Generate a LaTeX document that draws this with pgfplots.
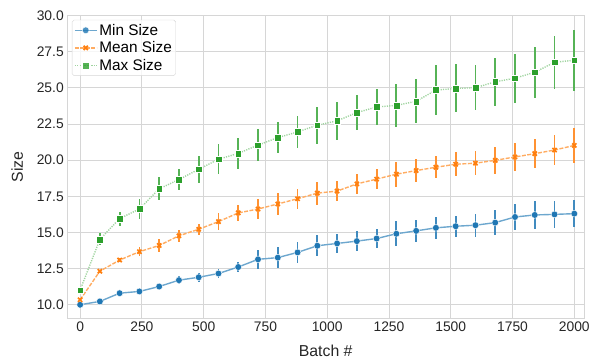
\documentclass[border=0pt]{standalone}
\usepackage{fontspec}
\setmainfont{Liberation Sans}
\usepackage{pgfplots}
\usepackage{pgfplotstable}
\pgfplotsset{compat=1.18}
\definecolor{cblue}{HTML}{1F77B4}
\definecolor{corange}{HTML}{FF7F0E}
\definecolor{cgreen}{HTML}{2CA02C}
\definecolor{gridgray}{HTML}{D6D6D6}
\definecolor{labelgray}{HTML}{262626}

\pgfplotstableread{
x y e
0 10.00 0.03
80 10.23 0.05
160 10.80 0.07
240 10.92 0.10
320 11.26 0.15
400 11.70 0.28
480 11.90 0.30
560 12.16 0.30
640 12.61 0.37
720 13.14 0.67
800 13.26 0.72
880 13.62 0.72
960 14.08 0.71
1040 14.24 0.66
1120 14.40 0.69
1200 14.58 0.66
1280 14.91 0.85
1360 15.11 0.74
1440 15.32 0.76
1520 15.43 0.73
1600 15.50 0.80
1680 15.68 0.87
1760 16.07 0.89
1840 16.21 0.98
1920 16.25 0.94
2000 16.30 0.95
}\minsize

\pgfplotstableread{
x y e
0 10.34 0.10
80 12.32 0.08
160 13.09 0.12
240 13.67 0.33
320 14.10 0.44
400 14.77 0.42
480 15.22 0.38
560 15.75 0.57
640 16.35 0.57
720 16.62 0.69
800 16.97 0.77
880 17.33 0.69
960 17.72 0.79
1040 17.86 0.71
1120 18.36 0.71
1200 18.69 0.71
1280 19.03 0.87
1360 19.28 0.78
1440 19.51 0.77
1520 19.72 0.84
1600 19.79 0.85
1680 19.99 0.92
1760 20.22 0.95
1840 20.45 1.00
1920 20.70 1.05
2000 21.02 1.23
}\meansize

\pgfplotstableread{
x y e
0 11.01 0.02
80 14.52 0.42
160 15.96 0.48
240 16.62 0.72
320 18.02 0.80
400 18.66 0.72
480 19.37 0.95
560 20.06 1.05
640 20.47 1.09
720 21.04 1.12
800 21.56 1.09
880 21.95 1.11
960 22.42 1.28
1040 22.72 1.31
1120 23.29 1.21
1200 23.68 1.25
1280 23.79 1.50
1360 24.07 1.53
1440 24.85 1.72
1520 24.96 1.66
1600 25.01 1.55
1680 25.42 1.67
1760 25.67 1.70
1840 26.08 1.78
1920 26.77 1.84
2000 26.91 2.12
}\maxsize

\begin{document}
\begin{tikzpicture}
\begin{axis}[
  width=520.3bp, height=305bp, scale only axis,
  xmin=-52, xmax=2040, ymin=9.04, ymax=30.0,
  xtick={0,250,...,2000}, ytick={10,12.5,...,30},
  grid=major, grid style={color=gridgray, line width=0.8bp},
  axis line style={gridgray, line width=0.8bp},
  major tick length=0pt,
  /pgf/number format/assume math mode=true,
  /pgf/number format/1000 sep={},
  tick label style={font=\fontsize{14}{14}\selectfont, text=labelgray},
  yticklabel style={/pgf/number format/.cd, fixed, fixed zerofill, precision=1},
  xlabel={Batch \#}, ylabel={Size},
  label style={font=\fontsize{16}{16}\selectfont, text=labelgray},
  xlabel style={yshift=-6bp},
  ylabel style={yshift=7bp},
  legend style={at={(0.009,0.986)}, anchor=north west, draw=gridgray, rounded corners=2bp,
    fill=white, fill opacity=0.8, text opacity=1, font=\fontsize{15.5}{17}\selectfont,
    inner sep=2bp, row sep=1bp},
  legend cell align=left,
  legend image code/.code={\draw[mark repeat=2,mark phase=2,#1] plot coordinates {(0bp,0bp) (11bp,0bp) (22bp,0bp)};},
  error bars/y dir=both, error bars/y explicit,
  error bars/error mark=none,
]
% error bars first (behind markers)
\addplot[forget plot, draw=none, mark=none,
  error bars/error bar style={draw=cblue!85!white, line width=1.8bp}]
  table[x=x, y=y, y error=e] {\minsize};
\addplot[forget plot, draw=none, mark=none,
  error bars/error bar style={draw=corange!85!white, line width=1.8bp}]
  table[x=x, y=y, y error=e] {\meansize};
\addplot[forget plot, draw=none, mark=none,
  error bars/error bar style={draw=cgreen!80!white, line width=1.8bp}]
  table[x=x, y=y, y error=e] {\maxsize};

\addplot[color=cblue!65!white, line width=1.4bp, mark=*, mark size=3.4bp,
  mark options={fill=cblue, draw=white, line width=0.4bp}]
  table[x=x, y=y] {\minsize};
\addlegendentry{Min Size}
\addplot[color=corange!65!white, line width=1.4bp, dash pattern=on 4bp off 1.5bp, mark=x, mark size=3bp,
  mark options={solid, draw=corange, line width=1.7bp}]
  table[x=x, y=y] {\meansize};
\addlegendentry{Mean Size}
\addplot[color=cgreen!45!white, line width=1.4bp, dash pattern=on 1.2bp off 1.2bp, mark=square*, mark size=3.4bp,
  mark options={solid, fill=cgreen, draw=white, line width=0.4bp}]
  table[x=x, y=y] {\maxsize};
\addlegendentry{Max Size}
\end{axis}
\path (current axis.south west) ++(-67.7bp,-42.3bp) coordinate (bbA);
\path (current axis.north east) ++(5bp,15.7bp) coordinate (bbB);
\useasboundingbox (bbA) rectangle (bbB);
\end{tikzpicture}
\end{document}
